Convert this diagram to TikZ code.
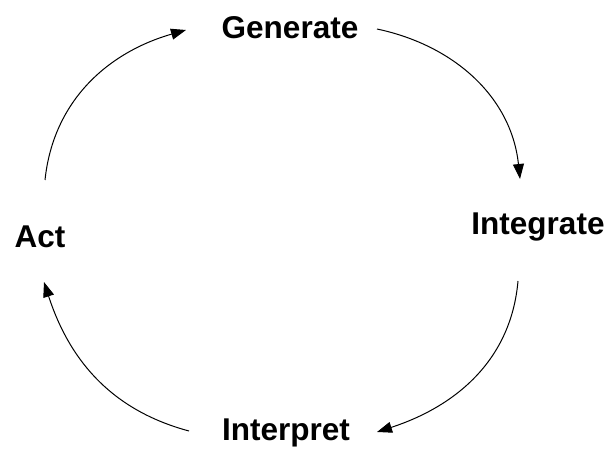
\documentclass[tikz,border=0pt]{standalone}
\usepackage{fontspec}
\setmainfont{Liberation Sans}
\usetikzlibrary{arrows.meta}
\begin{document}
\begin{tikzpicture}[x=1pt,y=1pt,
  lbl/.style={font=\fontsize{31.5}{32}\selectfont\bfseries, inner sep=0pt, anchor=center},
  cyc/.style={line width=1pt, -{Triangle[length=15pt,width=11pt]}}]
\useasboundingbox (0,0) rectangle (608,452);
\node[lbl] (gen) at (290,424) {Generate};
\node[lbl] (int) at (538,225) {Integrate};
\node[lbl] (act) at (40,215) {Act};
\node[lbl] (itp) at (286,19) {Interpret};
\coordinate (a1s) at (45,272);
\coordinate (a1e) at (186,422);
\coordinate (a2s) at (377,423);
\coordinate (a2e) at (520,273);
\coordinate (a3s) at (518,171);
\coordinate (a3e) at (377,20);
\coordinate (a4s) at (189,21);
\coordinate (a4e) at (44,170);
\draw[cyc] (a1s) to[out=84, in=196] (a1e);
\draw[cyc] (a2s) to[out=-12, in=96] (a2e);
\draw[cyc] (a3s) to[out=-95, in=18] (a3e);
\draw[cyc] (a4s) to[out=165, in=-72] (a4e);
\end{tikzpicture}
\end{document}
